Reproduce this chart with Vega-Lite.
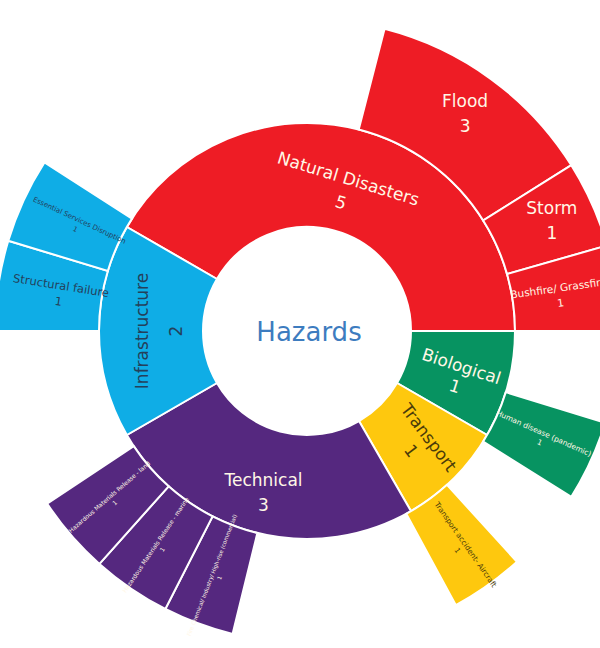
{
  "$schema": "https://vega.github.io/schema/vega-lite/v6.json",
  "autosize": {"type": "none"},
  "padding": {"left": 14, "top": 14, "right": 0, "bottom": 0},
  "width": 586,
  "height": 634,
  "background": "#ffffff",
  "config": {"view": {"stroke": null}, "font": "DejaVu Sans"},
  "datasets": {
    "inner": [
      {"name": "Natural Disasters", "count": 5, "idx": 1},
      {"name": "Biological", "count": 1, "idx": 2},
      {"name": "Transport", "count": 1, "idx": 3},
      {"name": "Technical", "count": 3, "idx": 4},
      {"name": "Infrastructure", "count": 2, "idx": 5}
    ],
    "outer": [
      {"name": "Flood", "parent": "Natural Disasters", "count": 3, "start": 2.48, "end": 3.93},
      {"name": "Storm", "parent": "Natural Disasters", "count": 1, "start": 3.93, "end": 4.47},
      {"name": "Bushfire/ Grassfire", "parent": "Natural Disasters", "count": 1, "start": 4.47, "end": 5.0},
      {"name": "Human disease (pandemic)", "parent": "Biological", "count": 1, "start": 5.57, "end": 6.07},
      {"name": "Transport accident- Aircraft", "parent": "Transport", "count": 1, "start": 6.59, "end": 7.05},
      {"name": "Fire Chemical/ Industry/ High-rise (commercial)", "parent": "Technical", "count": 1, "start": 8.46, "end": 8.9},
      {"name": "Hazardous Materials Release - marine", "parent": "Technical", "count": 1, "start": 8.9, "end": 9.39},
      {"name": "Hazardous Materials Release - land", "parent": "Technical", "count": 1, "start": 9.39, "end": 9.88},
      {"name": "Structural failure", "parent": "Infrastructure", "count": 1, "start": 11.0, "end": 11.56},
      {"name": "Essential Services Disruption", "parent": "Infrastructure", "count": 1, "start": 11.56, "end": 12.09}
    ]
  },
  "layer": [
    {
      "data": {"name": "inner"},
      "mark": {"type": "arc", "radius": 208, "radius2": 104, "stroke": "#ffffff", "strokeWidth": 2},
      "encoding": {
        "theta": {"field": "count", "type": "quantitative", "stack": true, "scale": {"domain": [0, 12], "range": [-1.0471976, 5.2359878], "nice": false, "zero": false}},
        "order": {"field": "idx", "type": "quantitative"},
        "color": {"field": "name", "type": "nominal", "legend": null, "scale": {"domain": ["Natural Disasters", "Biological", "Transport", "Technical", "Infrastructure"], "range": ["#EE1C25", "#079361", "#FEC80E", "#55287F", "#0FADE6"]}}
      }
    },
    {
      "data": {"name": "outer"},
      "mark": {"type": "arc", "radius": 312, "radius2": 208, "stroke": "#ffffff", "strokeWidth": 2},
      "encoding": {
        "theta": {"field": "start", "type": "quantitative", "scale": {"domain": [0, 12], "range": [-1.0471976, 5.2359878], "nice": false, "zero": false}},
        "theta2": {"field": "end"},
        "color": {"field": "parent", "type": "nominal", "legend": null}
      }
    },
    {
      "data": {"values": [{"root": "Hazards"}]},
      "mark": {"type": "text", "fontSize": 26, "font": "DejaVu Sans", "color": "#3D7CBF", "baseline": "middle", "align": "center", "dx": 2, "dy": 2},
      "encoding": {"text": {"field": "root", "type": "nominal"}}
    },
    {
      "data": {"name": "inner"},
      "mark": {"type": "text", "radius": 145, "angle": 17, "fontSize": 17, "font": "DejaVu Sans", "color": "#FFF7E6", "dy": -12, "baseline": "middle"},
      "encoding": {
        "theta": {"field": "count", "type": "quantitative", "stack": true},
        "order": {"field": "idx", "type": "quantitative"},
        "text": {"condition": {"test": "datum.name === 'Natural Disasters'", "field": "name", "type": "nominal"}, "value": ""}
      }
    },
    {
      "data": {"name": "inner"},
      "mark": {"type": "text", "radius": 145, "angle": 17, "fontSize": 17, "font": "DejaVu Sans", "color": "#FFF7E6", "dy": 13, "baseline": "middle"},
      "encoding": {
        "theta": {"field": "count", "type": "quantitative", "stack": true},
        "order": {"field": "idx", "type": "quantitative"},
        "text": {"condition": {"test": "datum.name === 'Natural Disasters'", "field": "count", "type": "quantitative"}, "value": ""}
      }
    },
    {
      "data": {"name": "inner"},
      "mark": {"type": "text", "radius": 158, "angle": 18, "fontSize": 17, "font": "DejaVu Sans", "color": "#FFF7E6", "dy": -5, "baseline": "middle"},
      "encoding": {
        "theta": {"field": "count", "type": "quantitative", "stack": true},
        "order": {"field": "idx", "type": "quantitative"},
        "text": {"condition": {"test": "datum.name === 'Biological'", "field": "name", "type": "nominal"}, "value": ""}
      }
    },
    {
      "data": {"name": "inner"},
      "mark": {"type": "text", "radius": 158, "angle": 18, "fontSize": 17, "font": "DejaVu Sans", "color": "#FFF7E6", "dy": 16, "baseline": "middle"},
      "encoding": {
        "theta": {"field": "count", "type": "quantitative", "stack": true},
        "order": {"field": "idx", "type": "quantitative"},
        "text": {"condition": {"test": "datum.name === 'Biological'", "field": "count", "type": "quantitative"}, "value": ""}
      }
    },
    {
      "data": {"name": "inner"},
      "mark": {"type": "text", "radius": 160, "angle": 53, "fontSize": 17, "font": "DejaVu Sans", "color": "#4A3B0A", "dy": -10, "baseline": "middle"},
      "encoding": {
        "theta": {"field": "count", "type": "quantitative", "stack": true},
        "order": {"field": "idx", "type": "quantitative"},
        "text": {"condition": {"test": "datum.name === 'Transport'", "field": "name", "type": "nominal"}, "value": ""}
      }
    },
    {
      "data": {"name": "inner"},
      "mark": {"type": "text", "radius": 160, "angle": 53, "fontSize": 17, "font": "DejaVu Sans", "color": "#4A3B0A", "dy": 12, "baseline": "middle"},
      "encoding": {
        "theta": {"field": "count", "type": "quantitative", "stack": true},
        "order": {"field": "idx", "type": "quantitative"},
        "text": {"condition": {"test": "datum.name === 'Transport'", "field": "count", "type": "quantitative"}, "value": ""}
      }
    },
    {
      "data": {"name": "inner"},
      "mark": {"type": "text", "radius": 168, "angle": 0, "fontSize": 17, "font": "DejaVu Sans", "color": "#FFF7E6", "dy": -12, "baseline": "middle"},
      "encoding": {
        "theta": {"field": "count", "type": "quantitative", "stack": true},
        "order": {"field": "idx", "type": "quantitative"},
        "text": {"condition": {"test": "datum.name === 'Technical'", "field": "name", "type": "nominal"}, "value": ""}
      }
    },
    {
      "data": {"name": "inner"},
      "mark": {"type": "text", "radius": 168, "angle": 0, "fontSize": 17, "font": "DejaVu Sans", "color": "#FFF7E6", "dy": 13, "baseline": "middle"},
      "encoding": {
        "theta": {"field": "count", "type": "quantitative", "stack": true},
        "order": {"field": "idx", "type": "quantitative"},
        "text": {"condition": {"test": "datum.name === 'Technical'", "field": "count", "type": "quantitative"}, "value": ""}
      }
    },
    {
      "data": {"name": "inner"},
      "mark": {"type": "text", "radius": 150, "angle": -90, "fontSize": 17, "font": "DejaVu Sans", "color": "#24405A", "dy": -14, "baseline": "middle"},
      "encoding": {
        "theta": {"field": "count", "type": "quantitative", "stack": true},
        "order": {"field": "idx", "type": "quantitative"},
        "text": {"condition": {"test": "datum.name === 'Infrastructure'", "field": "name", "type": "nominal"}, "value": ""}
      }
    },
    {
      "data": {"name": "inner"},
      "mark": {"type": "text", "radius": 150, "angle": -90, "fontSize": 17, "font": "DejaVu Sans", "color": "#24405A", "dy": 20, "baseline": "middle"},
      "encoding": {
        "theta": {"field": "count", "type": "quantitative", "stack": true},
        "order": {"field": "idx", "type": "quantitative"},
        "text": {"condition": {"test": "datum.name === 'Infrastructure'", "field": "count", "type": "quantitative"}, "value": ""}
      }
    },
    {
      "data": {"name": "outer"},
      "transform": [{"filter": "datum.name === 'Flood' || datum.name === 'Storm'"}, {"fold": ["start", "end"], "as": ["edge", "pos"]}, {"aggregate": [{"op": "mean", "field": "pos", "as": "mid"}], "groupby": ["name", "count"]}],
      "mark": {"type": "text", "radius": 268, "angle": 0, "fontSize": 17, "font": "DejaVu Sans", "color": "#FFF7E6", "dy": -13, "baseline": "middle"},
      "encoding": {"theta": {"field": "mid", "type": "quantitative"}, "text": {"field": "name", "type": "nominal"}}
    },
    {
      "data": {"name": "outer"},
      "transform": [{"filter": "datum.name === 'Flood' || datum.name === 'Storm'"}, {"fold": ["start", "end"], "as": ["edge", "pos"]}, {"aggregate": [{"op": "mean", "field": "pos", "as": "mid"}], "groupby": ["name", "count"]}],
      "mark": {"type": "text", "radius": 268, "angle": 0, "fontSize": 17, "font": "DejaVu Sans", "color": "#FFF7E6", "dy": 12, "baseline": "middle"},
      "encoding": {"theta": {"field": "mid", "type": "quantitative"}, "text": {"field": "count", "type": "quantitative"}}
    },
    {
      "data": {"name": "outer"},
      "transform": [{"filter": "datum.name === 'Bushfire/ Grassfire'"}, {"fold": ["start", "end"], "as": ["edge", "pos"]}, {"aggregate": [{"op": "mean", "field": "pos", "as": "mid"}], "groupby": ["name", "count"]}],
      "mark": {"type": "text", "radius": 255, "angle": -8, "fontSize": 10.5, "font": "DejaVu Sans", "color": "#FFF7E6", "dy": -7, "baseline": "middle"},
      "encoding": {"theta": {"field": "mid", "type": "quantitative"}, "text": {"field": "name", "type": "nominal"}}
    },
    {
      "data": {"name": "outer"},
      "transform": [{"filter": "datum.name === 'Bushfire/ Grassfire'"}, {"fold": ["start", "end"], "as": ["edge", "pos"]}, {"aggregate": [{"op": "mean", "field": "pos", "as": "mid"}], "groupby": ["name", "count"]}],
      "mark": {"type": "text", "radius": 255, "angle": -8, "fontSize": 10.5, "font": "DejaVu Sans", "color": "#FFF7E6", "dy": 8, "baseline": "middle"},
      "encoding": {"theta": {"field": "mid", "type": "quantitative"}, "text": {"field": "count", "type": "quantitative"}}
    },
    {
      "data": {"name": "outer"},
      "transform": [{"filter": "datum.name === 'Human disease (pandemic)'"}, {"fold": ["start", "end"], "as": ["edge", "pos"]}, {"aggregate": [{"op": "mean", "field": "pos", "as": "mid"}], "groupby": ["name", "count"]}],
      "mark": {"type": "text", "radius": 258, "angle": 24, "fontSize": 7.5, "font": "DejaVu Sans", "color": "#FFF7E6", "dy": -5, "baseline": "middle"},
      "encoding": {"theta": {"field": "mid", "type": "quantitative"}, "text": {"field": "name", "type": "nominal"}}
    },
    {
      "data": {"name": "outer"},
      "transform": [{"filter": "datum.name === 'Human disease (pandemic)'"}, {"fold": ["start", "end"], "as": ["edge", "pos"]}, {"aggregate": [{"op": "mean", "field": "pos", "as": "mid"}], "groupby": ["name", "count"]}],
      "mark": {"type": "text", "radius": 258, "angle": 24, "fontSize": 7.5, "font": "DejaVu Sans", "color": "#FFF7E6", "dy": 5, "baseline": "middle"},
      "encoding": {"theta": {"field": "mid", "type": "quantitative"}, "text": {"field": "count", "type": "quantitative"}}
    },
    {
      "data": {"name": "outer"},
      "transform": [{"filter": "datum.name === 'Transport accident- Aircraft'"}, {"fold": ["start", "end"], "as": ["edge", "pos"]}, {"aggregate": [{"op": "mean", "field": "pos", "as": "mid"}], "groupby": ["name", "count"]}],
      "mark": {"type": "text", "radius": 266, "angle": 55, "fontSize": 7.5, "font": "DejaVu Sans", "color": "#4A3B0A", "dy": -5, "baseline": "middle"},
      "encoding": {"theta": {"field": "mid", "type": "quantitative"}, "text": {"field": "name", "type": "nominal"}}
    },
    {
      "data": {"name": "outer"},
      "transform": [{"filter": "datum.name === 'Transport accident- Aircraft'"}, {"fold": ["start", "end"], "as": ["edge", "pos"]}, {"aggregate": [{"op": "mean", "field": "pos", "as": "mid"}], "groupby": ["name", "count"]}],
      "mark": {"type": "text", "radius": 266, "angle": 55, "fontSize": 7.5, "font": "DejaVu Sans", "color": "#4A3B0A", "dy": 5, "baseline": "middle"},
      "encoding": {"theta": {"field": "mid", "type": "quantitative"}, "text": {"field": "count", "type": "quantitative"}}
    },
    {
      "data": {"name": "outer"},
      "transform": [{"filter": "datum.name === 'Hazardous Materials Release - land'"}, {"fold": ["start", "end"], "as": ["edge", "pos"]}, {"aggregate": [{"op": "mean", "field": "pos", "as": "mid"}], "groupby": ["name", "count"]}],
      "mark": {"type": "text", "radius": 258, "angle": -41, "fontSize": 6, "font": "DejaVu Sans", "color": "#FFF7E6", "dy": -4, "baseline": "middle"},
      "encoding": {"theta": {"field": "mid", "type": "quantitative"}, "text": {"field": "name", "type": "nominal"}}
    },
    {
      "data": {"name": "outer"},
      "transform": [{"filter": "datum.name === 'Hazardous Materials Release - land'"}, {"fold": ["start", "end"], "as": ["edge", "pos"]}, {"aggregate": [{"op": "mean", "field": "pos", "as": "mid"}], "groupby": ["name", "count"]}],
      "mark": {"type": "text", "radius": 258, "angle": -41, "fontSize": 6, "font": "DejaVu Sans", "color": "#FFF7E6", "dy": 4, "baseline": "middle"},
      "encoding": {"theta": {"field": "mid", "type": "quantitative"}, "text": {"field": "count", "type": "quantitative"}}
    },
    {
      "data": {"name": "outer"},
      "transform": [{"filter": "datum.name === 'Hazardous Materials Release - marine'"}, {"fold": ["start", "end"], "as": ["edge", "pos"]}, {"aggregate": [{"op": "mean", "field": "pos", "as": "mid"}], "groupby": ["name", "count"]}],
      "mark": {"type": "text", "radius": 262, "angle": -56, "fontSize": 6, "font": "DejaVu Sans", "color": "#FFF7E6", "dy": -4, "baseline": "middle"},
      "encoding": {"theta": {"field": "mid", "type": "quantitative"}, "text": {"field": "name", "type": "nominal"}}
    },
    {
      "data": {"name": "outer"},
      "transform": [{"filter": "datum.name === 'Hazardous Materials Release - marine'"}, {"fold": ["start", "end"], "as": ["edge", "pos"]}, {"aggregate": [{"op": "mean", "field": "pos", "as": "mid"}], "groupby": ["name", "count"]}],
      "mark": {"type": "text", "radius": 262, "angle": -56, "fontSize": 6, "font": "DejaVu Sans", "color": "#FFF7E6", "dy": 4, "baseline": "middle"},
      "encoding": {"theta": {"field": "mid", "type": "quantitative"}, "text": {"field": "count", "type": "quantitative"}}
    },
    {
      "data": {"name": "outer"},
      "transform": [{"filter": "datum.name === 'Fire Chemical/ Industry/ High-rise (commercial)'"}, {"fold": ["start", "end"], "as": ["edge", "pos"]}, {"aggregate": [{"op": "mean", "field": "pos", "as": "mid"}], "groupby": ["name", "count"]}],
      "mark": {"type": "text", "radius": 262, "angle": -69, "fontSize": 5.5, "font": "DejaVu Sans", "color": "#FFF7E6", "dy": -4, "baseline": "middle"},
      "encoding": {"theta": {"field": "mid", "type": "quantitative"}, "text": {"field": "name", "type": "nominal"}}
    },
    {
      "data": {"name": "outer"},
      "transform": [{"filter": "datum.name === 'Fire Chemical/ Industry/ High-rise (commercial)'"}, {"fold": ["start", "end"], "as": ["edge", "pos"]}, {"aggregate": [{"op": "mean", "field": "pos", "as": "mid"}], "groupby": ["name", "count"]}],
      "mark": {"type": "text", "radius": 262, "angle": -69, "fontSize": 5.5, "font": "DejaVu Sans", "color": "#FFF7E6", "dy": 4, "baseline": "middle"},
      "encoding": {"theta": {"field": "mid", "type": "quantitative"}, "text": {"field": "count", "type": "quantitative"}}
    },
    {
      "data": {"name": "outer"},
      "transform": [{"filter": "datum.name === 'Essential Services Disruption'"}, {"fold": ["start", "end"], "as": ["edge", "pos"]}, {"aggregate": [{"op": "mean", "field": "pos", "as": "mid"}], "groupby": ["name", "count"]}],
      "mark": {"type": "text", "radius": 253, "angle": 25, "fontSize": 7, "font": "DejaVu Sans", "color": "#24405A", "dy": -5, "baseline": "middle"},
      "encoding": {"theta": {"field": "mid", "type": "quantitative"}, "text": {"field": "name", "type": "nominal"}}
    },
    {
      "data": {"name": "outer"},
      "transform": [{"filter": "datum.name === 'Essential Services Disruption'"}, {"fold": ["start", "end"], "as": ["edge", "pos"]}, {"aggregate": [{"op": "mean", "field": "pos", "as": "mid"}], "groupby": ["name", "count"]}],
      "mark": {"type": "text", "radius": 253, "angle": 25, "fontSize": 7, "font": "DejaVu Sans", "color": "#24405A", "dy": 5, "baseline": "middle"},
      "encoding": {"theta": {"field": "mid", "type": "quantitative"}, "text": {"field": "count", "type": "quantitative"}}
    },
    {
      "data": {"name": "outer"},
      "transform": [{"filter": "datum.name === 'Structural failure'"}, {"fold": ["start", "end"], "as": ["edge", "pos"]}, {"aggregate": [{"op": "mean", "field": "pos", "as": "mid"}], "groupby": ["name", "count"]}],
      "mark": {"type": "text", "radius": 250, "angle": 9, "fontSize": 11.5, "font": "DejaVu Sans", "color": "#24405A", "dy": -8, "baseline": "middle"},
      "encoding": {"theta": {"field": "mid", "type": "quantitative"}, "text": {"field": "name", "type": "nominal"}}
    },
    {
      "data": {"name": "outer"},
      "transform": [{"filter": "datum.name === 'Structural failure'"}, {"fold": ["start", "end"], "as": ["edge", "pos"]}, {"aggregate": [{"op": "mean", "field": "pos", "as": "mid"}], "groupby": ["name", "count"]}],
      "mark": {"type": "text", "radius": 250, "angle": 9, "fontSize": 11.5, "font": "DejaVu Sans", "color": "#24405A", "dy": 8, "baseline": "middle"},
      "encoding": {"theta": {"field": "mid", "type": "quantitative"}, "text": {"field": "count", "type": "quantitative"}}
    }
  ]
}
